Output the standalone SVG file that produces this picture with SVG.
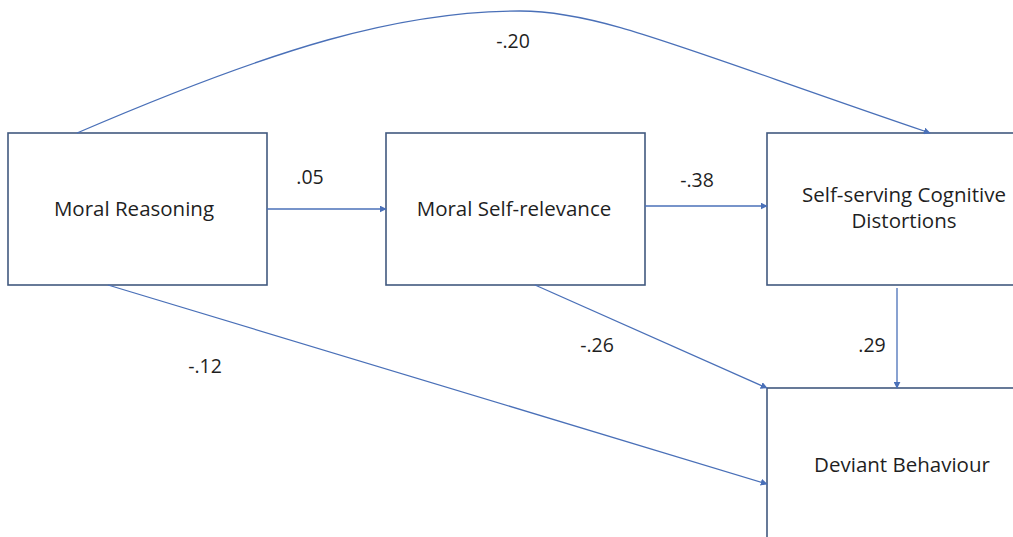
<svg xmlns="http://www.w3.org/2000/svg" width="1013" height="537" viewBox="0 0 1013 537">
  <style>
    .box { fill: #ffffff; stroke: #41597f; stroke-width: 1.6; }
    .lbl { font-family: "Open Sans", "Liberation Sans", sans-serif; font-size: 20.5px; fill: #1f1f1f; text-anchor: middle; }
    .num { font-family: "Open Sans", "Liberation Sans", sans-serif; font-size: 19.5px; fill: #1f1f1f; text-anchor: middle; }
    .edge { fill: none; stroke: #4a70b8; stroke-width: 1.3; marker-end: url(#head); }
  </style>
  <defs>
    <marker id="head" viewBox="0 0 10 10" refX="9" refY="5" markerWidth="7" markerHeight="7" markerUnits="userSpaceOnUse" orient="auto">
      <path d="M0,0 L10,5 L0,10 z" fill="#4a70b8"/>
    </marker>
  </defs>
  <rect width="1013" height="537" fill="#ffffff"/>

  <g id="moral-reasoning">
    <rect class="box" x="8" y="133" width="259" height="152"/>
    <text class="lbl" x="134" y="216">Moral Reasoning</text>
  </g>
  <g id="moral-self-relevance">
    <rect class="box" x="386" y="133" width="259" height="152"/>
    <text class="lbl" x="514" y="216">Moral Self-relevance</text>
  </g>
  <g id="cognitive-distortions">
    <rect class="box" x="767" y="133" width="270" height="152"/>
    <text class="lbl" x="904" y="202">Self-serving Cognitive</text>
    <text class="lbl" x="904" y="228">Distortions</text>
  </g>
  <g id="deviant-behaviour">
    <rect class="box" x="767" y="388" width="270" height="170"/>
    <text class="lbl" x="902" y="472">Deviant Behaviour</text>
  </g>

  <g id="connectors">
    <path class="edge" d="M77,133 C277,47 400,11 520,11 C600,11 680,48 930,133"/>
    <path class="edge" d="M267,209 L386,209"/>
    <path class="edge" d="M645,206 L767,206"/>
    <path class="edge" d="M897,288 L897,388"/>
    <path class="edge" d="M535,285 L767,388"/>
    <path class="edge" d="M108,285 L767,484"/>
  </g>

  <g id="coefficients">
    <text class="num" x="513" y="48">-.20</text>
    <text class="num" x="310" y="184">.05</text>
    <text class="num" x="697" y="187">-.38</text>
    <text class="num" x="872" y="352">.29</text>
    <text class="num" x="597" y="352">-.26</text>
    <text class="num" x="205" y="373">-.12</text>
  </g>
</svg>
